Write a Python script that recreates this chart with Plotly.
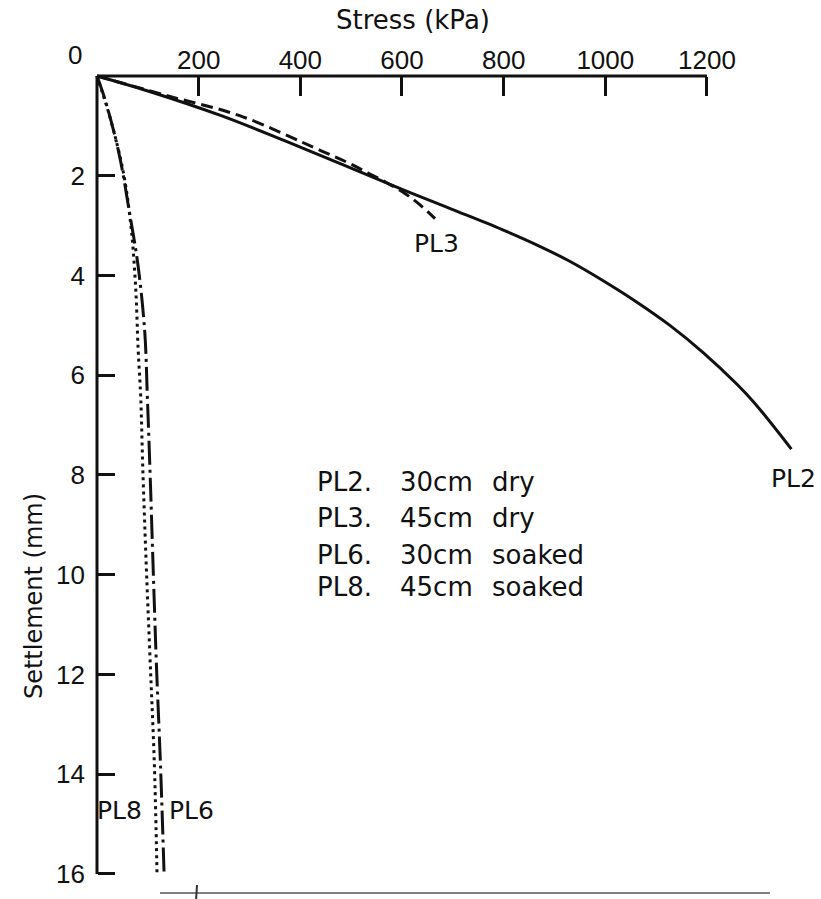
import plotly.graph_objects as go

# ---------------- data ----------------
pl2_stress = [0, 100, 243, 401, 599, 700, 797, 870, 929, 995, 1060, 1127, 1193, 1259, 1293, 1366]
pl2_settle = [0, 0.30, 0.79, 1.43, 2.27, 2.68, 3.08, 3.41, 3.71, 4.10, 4.52, 5.00, 5.55, 6.18, 6.55, 7.48]

pl3_stress = [0, 140, 282, 441, 494, 534, 570, 605, 635, 665]
pl3_settle = [0, 0.40, 0.80, 1.50, 1.74, 1.95, 2.14, 2.35, 2.58, 2.86]

pl6_stress = [0, 16, 43, 64, 81, 94, 99, 104, 111, 117, 125, 132]
pl6_settle = [0, 0.48, 1.54, 2.74, 3.82, 5.14, 6.42, 7.83, 10.03, 11.83, 13.84, 16.0]

pl8_stress = [0, 8, 27, 52, 67, 76, 81, 86, 90, 97, 105, 113, 118]
pl8_settle = [0, 0.25, 0.88, 1.94, 3.03, 4.23, 5.49, 6.43, 7.84, 9.84, 11.84, 13.85, 15.97]

x_ticks = [200, 400, 600, 800, 1000, 1200]
y_ticks = [2, 4, 6, 8, 10, 12, 14, 16]

legend_names = ["PL2.", "PL3.", "PL6.", "PL8."]
legend_depth = ["30cm", "45cm", "30cm", "45cm"]
legend_state = ["dry", "dry", "soaked", "soaked"]

# ---------------- figure ----------------
TICK_FONT = "Liberation Sans"
TEXT_FONT = "DejaVu Sans"
BLACK = "#111111"

fig = go.Figure()

fig.add_trace(go.Scatter(x=pl2_stress, y=pl2_settle, mode="lines", line_shape="spline",
                         line=dict(color=BLACK, width=3, smoothing=1.0), name="PL2"))
fig.add_trace(go.Scatter(x=pl3_stress, y=pl3_settle, mode="lines", line_shape="spline",
                         line=dict(color=BLACK, width=3, dash="12px,6px"), name="PL3"))
fig.add_trace(go.Scatter(x=pl6_stress, y=pl6_settle, mode="lines", line_shape="spline",
                         line=dict(color=BLACK, width=3, dash="24px,5px,3px,5px"), name="PL6"))
fig.add_trace(go.Scatter(x=pl8_stress, y=pl8_settle, mode="lines", line_shape="spline",
                         line=dict(color=BLACK, width=3, dash="3px,4px"), name="PL8"))

# axis lines (x only to 1200, y only to 16)
fig.add_shape(type="line", xref="x", yref="y", x0=0, x1=x_ticks[-1], y0=0, y1=0,
              line=dict(color=BLACK, width=3))
fig.add_shape(type="line", xref="x", yref="y", x0=0, x1=0, y0=0, y1=y_ticks[-1],
              line=dict(color=BLACK, width=3))

# remnant of the next figure's axis, visible at the bottom edge of the scan
fig.add_shape(type="line", xref="paper", yref="paper", x0=0.0908, x1=0.9298, y0=-0.0049, y1=-0.0049,
              line=dict(color="#555555", width=1.5))
fig.add_shape(type="line", xref="paper", yref="paper", x0=0.1417, x1=0.1405, y0=0.0049, y1=-0.0122,
              line=dict(color="#333333", width=2))

tickfont = dict(family=TICK_FONT, size=26, color=BLACK)

fig.update_layout(
    width=821, height=899,
    margin=dict(l=94, r=0, t=72, b=10),
    paper_bgcolor="white", plot_bgcolor="white",
    showlegend=False,
    xaxis=dict(range=[-5.9, 1424.3], side="top", anchor="free", position=0.9951,
               tickvals=x_ticks, ticktext=[str(v) for v in x_ticks],
               ticks="inside", ticklen=19, tickwidth=2.5, tickcolor=BLACK,
               showline=False, showgrid=False, zeroline=False,
               tickfont=tickfont, ticklabelstandoff=2),
    yaxis=dict(range=[16.301, -0.0802], anchor="free", position=0.00413,
               tickvals=y_ticks, ticktext=[str(v) for v in y_ticks],
               ticks="inside", ticklen=17, tickwidth=2.5, tickcolor=BLACK,
               showline=False, showgrid=False, zeroline=False,
               tickfont=tickfont, ticklabelstandoff=12),
)

ann_font = dict(family=TEXT_FONT, size=25, color=BLACK)


def label(x, y, text, xref="x", yref="y", **kw):
    kw.setdefault("xanchor", "center")
    fig.add_annotation(xref=xref, yref=yref, x=x, y=y, text=text, showarrow=False,
                       yanchor="middle", font=kw.pop("font", ann_font), **kw)


# origin label, axis titles
label(-0.0261, 1.0208, "0", xref="paper", yref="paper",
      font=dict(family=TICK_FONT, size=26, color=BLACK))
label(0.4388, 1.0636, "Stress (kPa)", xref="paper", yref="paper",
      font=dict(family=TEXT_FONT, size=26, color=BLACK))
label(-0.0825, 0.3586, "Settlement (mm)", xref="paper", yref="paper", textangle=-90,
      font=dict(family=TEXT_FONT, size=24, color=BLACK))

# curve labels
label(667, 3.35, "PL3")
label(1370, 8.08, "PL2")
label(44, 14.72, "PL8")
label(185, 14.72, "PL6")

# key text block
rows_y = [8.14, 8.86, 9.60, 10.25]
cols_x = [429, 592, 773]
for i in range(len(legend_names)):
    for cx, txt in zip(cols_x, [legend_names[i], legend_depth[i], legend_state[i]]):
        label(cx, rows_y[i], txt, xanchor="left", font=dict(family=TEXT_FONT, size=26, color=BLACK))

fig.write_html("out.html", config={"displayModeBar": False})
